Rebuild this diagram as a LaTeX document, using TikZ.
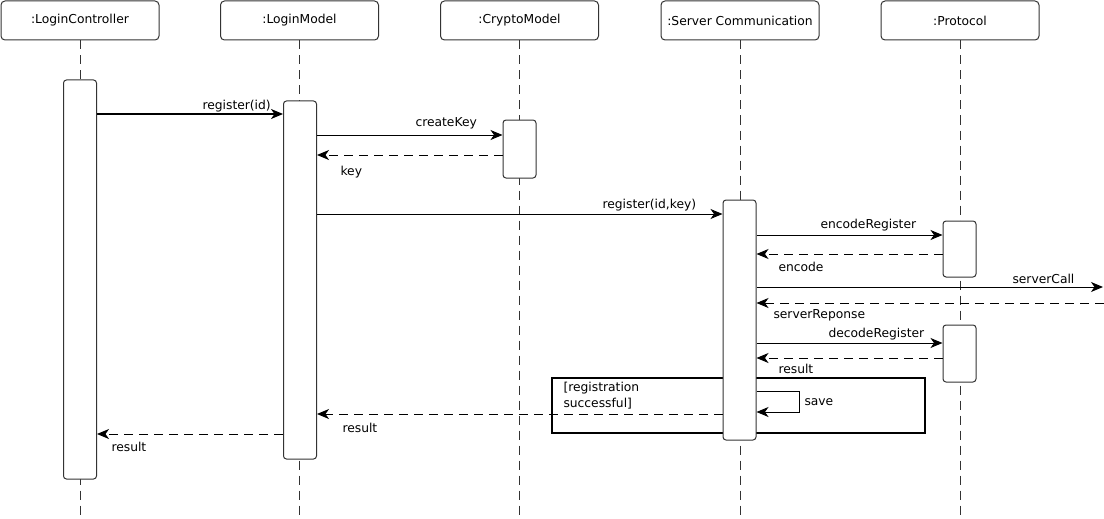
\documentclass[tikz,border=0pt]{standalone}
\usepackage{fontspec}
\setmainfont{DejaVu Sans}
\usetikzlibrary{arrows.meta}
\tikzset{
  head/.style={draw=black!80,rounded corners=4pt,minimum width=158pt,minimum height=39pt,inner sep=0pt},
  act/.style={draw=black!80,fill=white,rounded corners=3pt,minimum width=33pt,inner sep=0pt},
  life/.style={black!80,dash pattern=on 9pt off 6pt},
  msg/.style={-{Stealth[length=12pt,width=10pt,inset=3.5pt]}},
  ret/.style={msg,dash pattern=on 9pt off 6pt},
  lbl/.style={anchor=west,inner sep=0pt,text height=9pt,text depth=3pt}
}
\begin{document}
\begin{tikzpicture}[x=1pt,y=-1pt,line width=1pt,font=\fontsize{12.3}{15}\selectfont]
  \useasboundingbox (0,0) rectangle (1104,519);
  % lifeline heads
  \node[head] (lc) at (80,20.5) {:LoginController};
  \node[head] (lm) at (299.5,20.5) {:LoginModel};
  \node[head] (cm) at (519.5,20.5) {:CryptoModel};
  \node[head] (sc) at (740,20.5) {:Server Communication};
  \node[head] (pr) at (960,20.5) {:Protocol};
  \foreach \h in {lc,lm,cm,sc,pr}
    \draw[life] (\h.south) -- (\h.south |- 0,519);
  % alt frame
  \node[draw,line width=2pt,minimum width=373pt,minimum height=55pt,inner sep=0pt] (frm) at (738.5,405.5) {};
  \node[anchor=north west,align=left,inner sep=0pt,font=\fontsize{12.3}{16}\selectfont] (grd) at (563,382) {[registration\\successful]};
  % activations
  \node[act,minimum height=399pt] (lcA) at (80,279.5) {};
  \node[act,minimum height=358pt] (lmA) at (300,280) {};
  \node[act,minimum height=58pt] (cmA) at (519.5,149) {};
  \node[act,minimum height=240pt] (scA) at (739.5,320) {};
  \node[act,minimum height=56pt] (prA) at (959.5,249) {};
  \node[act,minimum height=57pt] (prB) at (959.5,353.5) {};
  \coordinate (outA) at (1103,287);
  \coordinate (outB) at (1104,303);
  % messages
  \draw[msg] (lcA.east |- 0,114) -- (lmA.west |- 0,114);
  \draw[msg] (lmA.east |- 0,135) -- (cmA.west |- 0,135);
  \draw[ret] (cmA.west |- 0,155) -- (lmA.east |- 0,155);
  \draw[msg] (lmA.east |- 0,214) -- (scA.west |- 0,214);
  \draw[msg] (scA.east |- 0,235) -- (prA.west |- 0,235);
  \draw[ret] (prA.west |- 0,254) -- (scA.east |- 0,254);
  \draw[msg] (scA.east |- 0,287) -- (outA);
  \draw[ret] (outB) -- (scA.east |- 0,303);
  \draw[msg] (scA.east |- 0,343) -- (prB.west |- 0,343);
  \draw[ret] (prB.west |- 0,358) -- (scA.east |- 0,358);
  \draw[msg] (scA.east |- 0,391) -- ++(43,0) -- ++(0,21) -- (scA.east |- 0,412);
  \draw[ret] (scA.west |- 0,414) -- (lmA.east |- 0,414);
  \draw[ret] (lmA.west |- 0,434) -- (lcA.east |- 0,434);
  % labels
  \node[lbl] (l1) at (202,107) {register(id)};
  \node[lbl] (l2) at (415,123) {createKey};
  \node[lbl] (l3) at (340,172) {key};
  \node[lbl] (l4) at (602,205) {register(id,key)};
  \node[lbl] (l5) at (820,225) {encodeRegister};
  \node[lbl] (l6) at (778,268) {encode};
  \node[lbl] (l7) at (1012,280) {serverCall};
  \node[lbl] (l8) at (773,315) {serverReponse};
  \node[lbl] (l9) at (828,334) {decodeRegister};
  \node[lbl] (l10) at (778,370) {result};
  \node[lbl] (l11) at (804,402) {save};
  \node[lbl] (l12) at (342,429) {result};
  \node[lbl] (l13) at (111,448) {result};
\end{tikzpicture}
\end{document}
